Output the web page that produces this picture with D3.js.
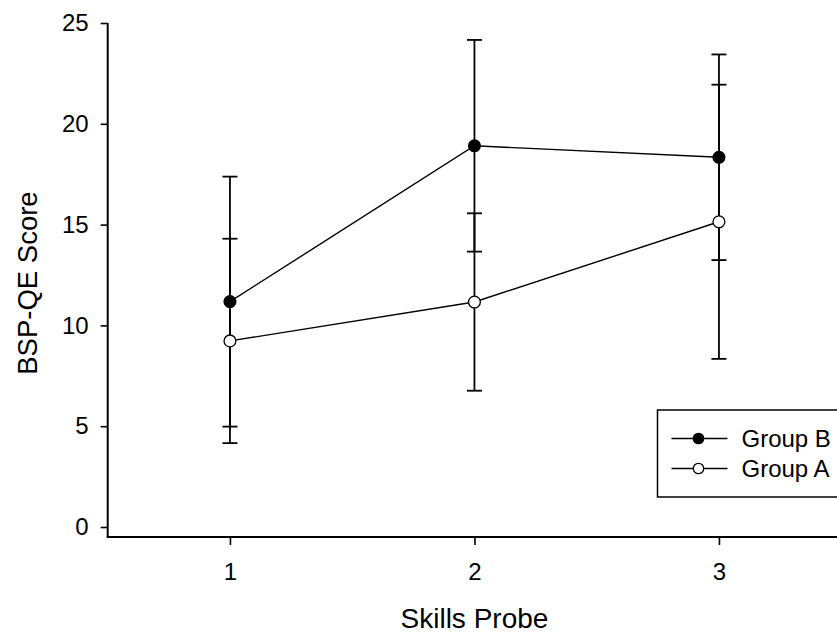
<!DOCTYPE html>
<html>
<head>
<meta charset="utf-8">
<script src="https://cdn.jsdelivr.net/npm/d3@7"></script>
<style>
  html, body { margin: 0; padding: 0; background: #fff; }
  svg { display: block; font-family: "Liberation Sans", Arial, sans-serif; }
</style>
</head>
<body>
<svg id="chart" width="837" height="635"></svg>
<script>
// Data
const probes = [1, 2, 3];
const groupB = [11.18, 18.91, 18.34];
const groupBErr = [6.2, 5.25, 5.1];
const groupA = [9.23, 11.16, 15.14];
const groupAErr = [5.07, 4.4, 6.8];
const yTicks = [0, 5, 10, 15, 20, 25];
const seriesNames = ["Group B", "Group A"];

const series = [
  { name: seriesNames[0], fill: "#000", values: groupB, err: groupBErr },
  { name: seriesNames[1], fill: "#fff", values: groupA, err: groupAErr },
];

const $svg = d3.select("#chart");

// Scales
const x = d3.scaleLinear().domain([0.5, 3.5]).range([107.7, 841.2]);
const y = d3.scaleLinear().domain([0, 25]).range([527, 23]);
const axisY = y(0) + 10;   // x axis sits a little below zero

// Axes
const yAxis = d3.axisLeft(y).tickValues(yTicks).tickSize(7).tickSizeOuter(0).tickPadding(12);
const xAxis = d3.axisBottom(x).tickValues(probes).tickSize(8).tickSizeOuter(0).tickPadding(18)
  .tickFormat(d3.format("d"));

const $yAxis = $svg.append("g")
  .attr("transform", `translate(${x(0.5)},0)`)
  .call(yAxis);
$yAxis.select(".domain").remove();
$yAxis.append("line")
  .attr("x1", 0).attr("x2", 0)
  .attr("y1", y(25)).attr("y2", axisY)
  .attr("stroke", "#000").attr("stroke-width", 2);

const $xAxis = $svg.append("g")
  .attr("transform", `translate(0,${axisY})`)
  .call(xAxis);
$xAxis.select(".domain").remove();
$xAxis.append("line")
  .attr("x1", x(0.5) - 1).attr("x2", x(3.5))
  .attr("y1", 0).attr("y2", 0)
  .attr("stroke", "#000").attr("stroke-width", 2);

$svg.selectAll(".tick line").attr("stroke", "#000").attr("stroke-width", 1.6);
$svg.selectAll(".tick text")
  .attr("fill", "#000")
  .style("font-size", "24px")
  .style("font-family", "'Liberation Sans', Arial, sans-serif");

// Axis titles
$svg.append("text")
  .attr("x", x(2)).attr("y", 628)
  .attr("text-anchor", "middle")
  .style("font-size", "28px")
  .text("Skills Probe");

$svg.append("text")
  .attr("transform", `translate(36.5,${y(12.1)}) rotate(-90)`)
  .attr("text-anchor", "middle")
  .style("font-size", "27.5px")
  .text("BSP-QE Score");

// Error bars
const capW = 7.5;
series.forEach(s => {
  const g = $svg.append("g").attr("stroke", "#000").attr("stroke-width", 1.8);
  const pts = probes.map((p, i) => ({ p, v: s.values[i], e: s.err[i] }));
  g.selectAll("line.bar").data(pts).join("line")
    .attr("class", "bar")
    .attr("x1", d => x(d.p)).attr("x2", d => x(d.p))
    .attr("y1", d => y(d.v + d.e)).attr("y2", d => y(d.v - d.e));
  g.selectAll("line.capHi").data(pts).join("line")
    .attr("class", "capHi")
    .attr("x1", d => x(d.p) - capW).attr("x2", d => x(d.p) + capW)
    .attr("y1", d => y(d.v + d.e)).attr("y2", d => y(d.v + d.e));
  g.selectAll("line.capLo").data(pts).join("line")
    .attr("class", "capLo")
    .attr("x1", d => x(d.p) - capW).attr("x2", d => x(d.p) + capW)
    .attr("y1", d => y(d.v - d.e)).attr("y2", d => y(d.v - d.e));
});

// Lines
const line = d3.line().x(d => x(d[0])).y(d => y(d[1]));
series.forEach(s => {
  $svg.append("path")
    .datum(probes.map((p, i) => [p, s.values[i]]))
    .attr("d", line)
    .attr("fill", "none")
    .attr("stroke", "#000")
    .attr("stroke-width", 1.4);
});

// Markers
series.forEach(s => {
  $svg.append("g").selectAll("circle")
    .data(probes.map((p, i) => [p, s.values[i]]))
    .join("circle")
      .attr("cx", d => x(d[0]))
      .attr("cy", d => y(d[1]))
      .attr("r", 5.9)
      .attr("fill", s.fill)
      .attr("stroke", "#000")
      .attr("stroke-width", 1.3);
});

// Legend
const $legend = $svg.append("g");
$legend.append("rect")
  .attr("x", 657.5).attr("y", 410)
  .attr("width", 240).attr("height", 87)
  .attr("fill", "#fff").attr("stroke", "#000").attr("stroke-width", 1.5);

const legendY = d3.scalePoint().domain(seriesNames).range([438.5, 468.5]);
series.forEach(s => {
  const ly = legendY(s.name);
  $legend.append("line")
    .attr("x1", 671.5).attr("x2", 727.5)
    .attr("y1", ly).attr("y2", ly)
    .attr("stroke", "#000").attr("stroke-width", 1.4);
  $legend.append("circle")
    .attr("cx", 698.5).attr("cy", ly).attr("r", 5.2)
    .attr("fill", s.fill).attr("stroke", "#000").attr("stroke-width", 1.3);
  $legend.append("text")
    .attr("x", 741.5).attr("y", ly).attr("dy", "0.36em")
    .style("font-size", "24px")
    .text(s.name);
});
</script>
</body>
</html>
